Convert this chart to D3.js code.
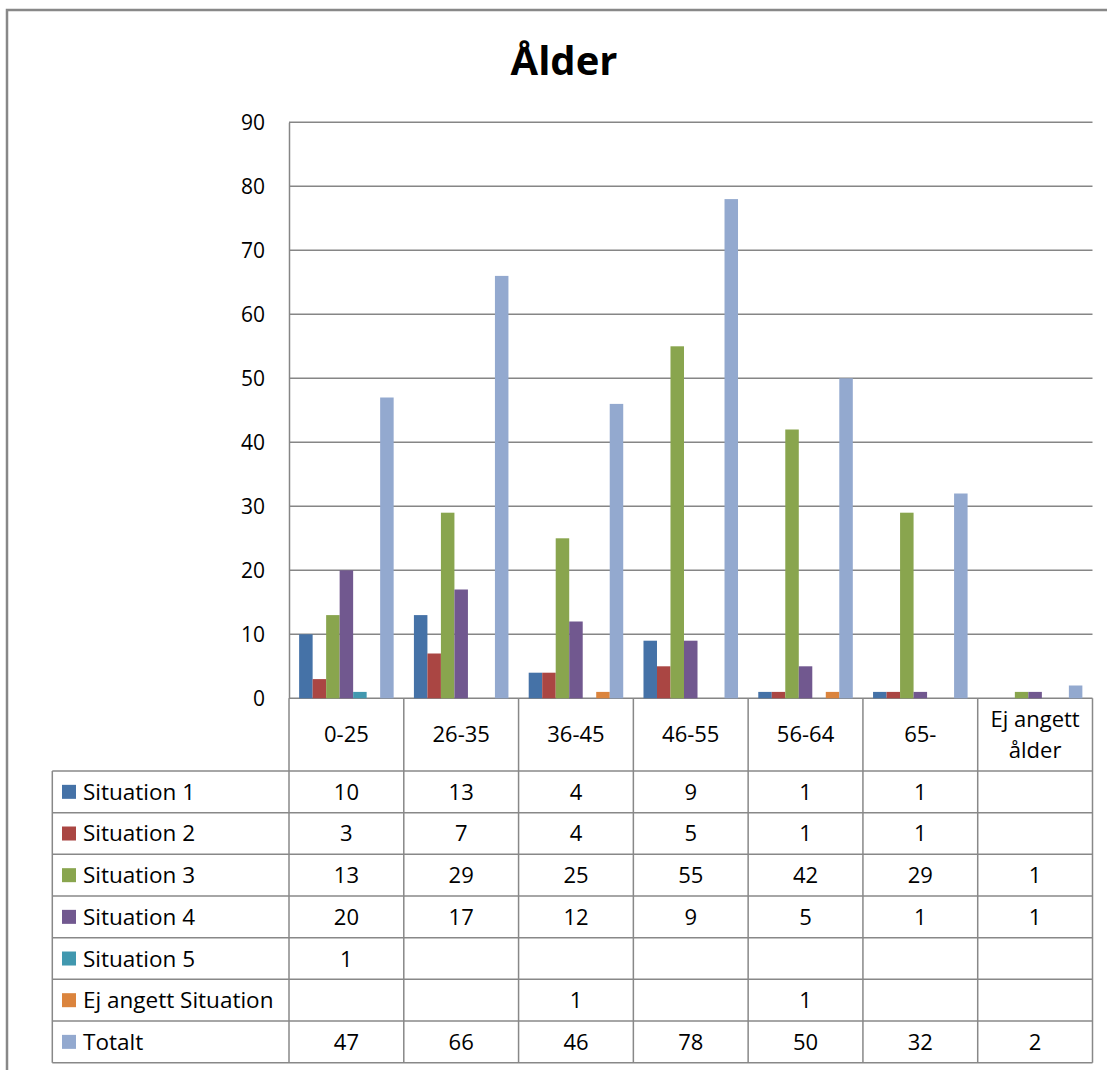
<!DOCTYPE html>
<html>
<head>
<meta charset="utf-8">
<script src="https://cdn.jsdelivr.net/npm/d3@7"></script>
<style>
  body { margin: 0; background: #fff; }
  text { font-family: "Open Sans", sans-serif; fill: #000; }
</style>
</head>
<body>
<script>
// data
var ages = ["0-25", "26-35", "36-45", "46-55", "56-64", "65-", "Ej angett ålder"];
var seriesNames = ["Situation 1", "Situation 2", "Situation 3", "Situation 4", "Situation 5", "Ej angett Situation", "Totalt"];
var colors = ["#4572A7", "#AA4643", "#89A54E", "#71588F", "#4198AF", "#DB843D", "#93A9CF"];
var situation1 = [10, 13, 4, 9, 1, 1, null];
var situation2 = [3, 7, 4, 5, 1, 1, null];
var situation3 = [13, 29, 25, 55, 42, 29, 1];
var situation4 = [20, 17, 12, 9, 5, 1, 1];
var situation5 = [1, null, null, null, null, null, null];
var ejAngett = [null, null, 1, null, 1, null, null];
var totalt = [47, 66, 46, 78, 50, 32, 2];
var yTicks = [0, 10, 20, 30, 40, 50, 60, 70, 80, 90];

var values = [situation1, situation2, situation3, situation4, situation5, ejAngett, totalt];
var series = seriesNames.map(function (name, i) {
  return { name: name, color: colors[i], values: values[i] };
});

var width = 1107, height = 1070;
var plotLeft = 289, plotRight = 1092.5, plotTop = 122.3, plotBottom = 698.3;
var tableLeft = 52.3, headerBottom = 771, tableBottom = 1062.7;

var svg = d3.select("body").append("svg")
  .attr("width", width)
  .attr("height", height);

svg.append("rect").attr("width", width).attr("height", height).attr("fill", "#fff");

// chart border
svg.append("path")
  .attr("d", "M7,1075 L7,10 L1112,10")
  .attr("fill", "none")
  .attr("stroke", "#888")
  .attr("stroke-width", 2.5);

var x = d3.scaleBand().domain(ages).range([plotLeft, plotRight]);
var bw = x.bandwidth();
var barW = bw / 8.5;
var xs = d3.scaleBand().domain(seriesNames).range([0.75 * barW, bw - 0.75 * barW]);
var y = d3.scaleLinear().domain([0, 90]).range([plotBottom, plotTop]);

// title
svg.append("text")
  .attr("x", 564)
  .attr("y", 75)
  .attr("text-anchor", "middle")
  .style("font-size", "40px")
  .style("font-weight", "bold")
  .text("Ålder");

// gridlines
svg.append("g").selectAll("line")
  .data(yTicks)
  .enter().append("line")
  .attr("x1", plotLeft).attr("x2", plotRight)
  .attr("y1", function (d) { return y(d); })
  .attr("y2", function (d) { return y(d); })
  .attr("stroke", "#868686")
  .attr("stroke-width", 1.5);

// y axis
var yAxis = svg.append("g")
  .attr("transform", "translate(" + plotLeft + ",0)")
  .call(d3.axisLeft(y).tickValues(yTicks).tickSize(0).tickPadding(24));
yAxis.select(".domain").attr("stroke", "#868686").attr("stroke-width", 1.5);
yAxis.selectAll("text")
  .attr("dy", "0.35em")
  .style("font-size", "21px")
  .style("font-family", "Open Sans, sans-serif")
  .style("fill", "#000");

// bars
var groups = svg.append("g").selectAll("g")
  .data(series)
  .enter().append("g")
  .attr("fill", function (d) { return d.color; });

groups.selectAll("rect")
  .data(function (d) {
    return d.values.map(function (v, i) { return { name: d.name, age: ages[i], value: v }; })
      .filter(function (e) { return e.value != null; });
  })
  .enter().append("rect")
  .attr("x", function (d) { return x(d.age) + xs(d.name); })
  .attr("width", xs.bandwidth())
  .attr("y", function (d) { return y(d.value); })
  .attr("height", function (d) { return y(0) - y(d.value); });

// data table
var row = d3.scaleBand().domain(seriesNames).range([headerBottom, tableBottom]);
var rh = row.bandwidth();
var table = svg.append("g")
  .attr("stroke", "#888")
  .attr("stroke-width", 1.5)
  .attr("fill", "none");

// horizontal lines
table.selectAll("line.h")
  .data(seriesNames.concat(["end"]))
  .enter().append("line")
  .attr("class", "h")
  .attr("x1", tableLeft).attr("x2", plotRight)
  .attr("y1", function (d, i) { return headerBottom + i * rh; })
  .attr("y2", function (d, i) { return headerBottom + i * rh; });

// vertical lines
table.selectAll("line.v")
  .data(ages.concat(["end"]))
  .enter().append("line")
  .attr("class", "v")
  .attr("x1", function (d, i) { return plotLeft + i * bw; })
  .attr("x2", function (d, i) { return plotLeft + i * bw; })
  .attr("y1", plotBottom)
  .attr("y2", tableBottom);

table.append("line")
  .attr("x1", tableLeft).attr("x2", tableLeft)
  .attr("y1", headerBottom).attr("y2", tableBottom);

// header labels
svg.append("g").selectAll("text")
  .data(ages)
  .enter().append("text")
  .attr("text-anchor", "middle")
  .style("font-size", "22px")
  .each(function (d) {
    var t = d3.select(this);
    var cx = x(d) + bw / 2;
    if (d === "Ej angett ålder") {
      t.append("tspan").attr("x", cx).attr("y", 727).text("Ej angett");
      t.append("tspan").attr("x", cx).attr("y", 758).text("ålder");
    } else {
      t.attr("x", cx).attr("y", 742).text(d);
    }
  });

// legend column
var leg = svg.append("g").selectAll("g")
  .data(series)
  .enter().append("g")
  .attr("transform", function (d) { return "translate(0," + row(d.name) + ")"; });

leg.append("rect")
  .attr("x", 62).attr("y", rh / 2 - 7)
  .attr("width", 14).attr("height", 14)
  .attr("fill", function (d) { return d.color; });

leg.append("text")
  .attr("x", 83).attr("y", rh / 2 + 8)
  .style("font-size", "22.5px")
  .text(function (d) { return d.name; });

// cell values
leg.selectAll("text.val")
  .data(function (d) {
    return d.values.map(function (v, i) { return { age: ages[i], value: v }; })
      .filter(function (e) { return e.value != null; });
  })
  .enter().append("text")
  .attr("class", "val")
  .attr("x", function (d) { return x(d.age) + bw / 2; })
  .attr("y", rh / 2 + 8)
  .attr("text-anchor", "middle")
  .style("font-size", "22px")
  .text(function (d) { return d.value; });
</script>
</body>
</html>
